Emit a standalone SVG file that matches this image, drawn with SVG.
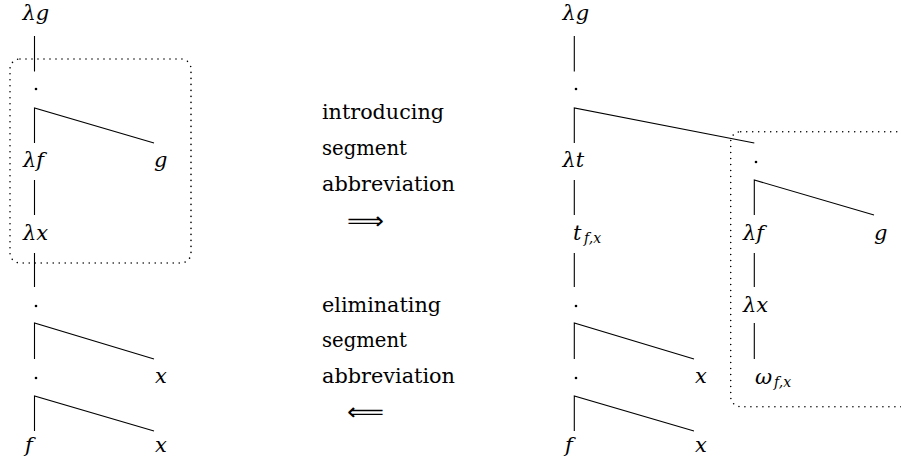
<svg xmlns="http://www.w3.org/2000/svg" width="901" height="464" viewBox="0 0 901 464">
<style>
.m{font-family:"DejaVu Serif",serif;font-style:italic;font-size:21px;fill:#000}
.s{font-family:"DejaVu Serif",serif;font-style:italic;font-size:14px;fill:#000}
.t{font-family:"DejaVu Serif",serif;font-size:21px;fill:#000}
.a{font-family:"DejaVu Sans",sans-serif;font-size:24px;fill:#000}
.e{fill:none;stroke:#000;stroke-width:1.1}
.box{fill:none;stroke:#000;stroke-width:1.6;stroke-dasharray:0 6;stroke-linecap:round}
</style>
<rect width="901" height="464" fill="#fff"/>
<g id="boxes">
<rect class="box" x="10" y="59" width="181" height="204" rx="10"/>
<rect class="box" x="730.7" y="131.7" width="200" height="275" rx="10"/>
</g>
<g id="connectors">
<path class="e" d="M34.5,36V71.5M34.5,143V108L154,143M34.5,180V215M34.5,253V287M34.5,359V323L154,359M34.5,431V396L154,431"/>
<path class="e" d="M574.3,36V71.5M574.3,143V108L754.3,143M574.3,180V215M574.3,253V287M574.3,359V323L694,359M574.3,431V396L694,431"/>
<path class="e" d="M754.3,215V180L874,215M754.3,253V287M754.3,323V359"/>
</g>
<g id="left-tree">
<g id="l-lg"><text class="m" x="22.5" y="20">λg</text></g>
<g id="l-app1"><circle cx="36" cy="89" r="1.3"/></g>
<g id="l-lf"><text class="m" x="23" y="167">λf</text></g>
<g id="l-g"><text class="m" x="154" y="167">g</text></g>
<g id="l-lx"><text class="m" x="23" y="240">λx</text></g>
<g id="l-app2"><circle cx="36" cy="306" r="1.3"/></g>
<g id="l-app3"><circle cx="36" cy="378" r="1.3"/></g>
<g id="l-x1"><text class="m" x="155" y="383">x</text></g>
<g id="l-f"><text class="m" x="25" y="452">f</text></g>
<g id="l-x2"><text class="m" x="155" y="452">x</text></g>
</g>
<g id="middle">
<g id="intro"><text class="t" x="322" y="119" textLength="122" lengthAdjust="spacingAndGlyphs">introducing</text><text class="t" x="322" y="155" textLength="85" lengthAdjust="spacingAndGlyphs">segment</text><text class="t" x="322" y="191" textLength="133" lengthAdjust="spacingAndGlyphs">abbreviation</text><text class="a" x="347" y="229" textLength="37" lengthAdjust="spacingAndGlyphs">⟹</text></g>
<g id="elim"><text class="t" x="322" y="311.5" textLength="119" lengthAdjust="spacingAndGlyphs">eliminating</text><text class="t" x="322" y="347" textLength="85" lengthAdjust="spacingAndGlyphs">segment</text><text class="t" x="322" y="383" textLength="133" lengthAdjust="spacingAndGlyphs">abbreviation</text><text class="a" x="347" y="420" textLength="37" lengthAdjust="spacingAndGlyphs">⟸</text></g>
</g>
<g id="right-tree">
<g id="r-lg"><text class="m" x="562.5" y="20">λg</text></g>
<g id="r-app1"><circle cx="576" cy="89" r="1.3"/></g>
<g id="r-lt"><text class="m" x="562.5" y="167">λt</text></g>
<g id="r-tfx"><text class="m" x="573" y="240">t</text><text class="s" x="584" y="243">f,x</text></g>
<g id="r-app2"><circle cx="576" cy="306" r="1.3"/></g>
<g id="r-app3"><circle cx="576" cy="378" r="1.3"/></g>
<g id="r-x1"><text class="m" x="695" y="383">x</text></g>
<g id="r-f"><text class="m" x="565" y="452">f</text></g>
<g id="r-x2"><text class="m" x="695" y="452">x</text></g>
</g>
<g id="segment-tree">
<g id="s-app"><circle cx="756" cy="162" r="1.3"/></g>
<g id="s-lf"><text class="m" x="743" y="240">λf</text></g>
<g id="s-g"><text class="m" x="874" y="240">g</text></g>
<g id="s-lx"><text class="m" x="743" y="312">λx</text></g>
<g id="s-w"><text class="m" x="755" y="384">ω</text><text class="s" x="774" y="387">f,x</text></g>
</g>
</svg>
